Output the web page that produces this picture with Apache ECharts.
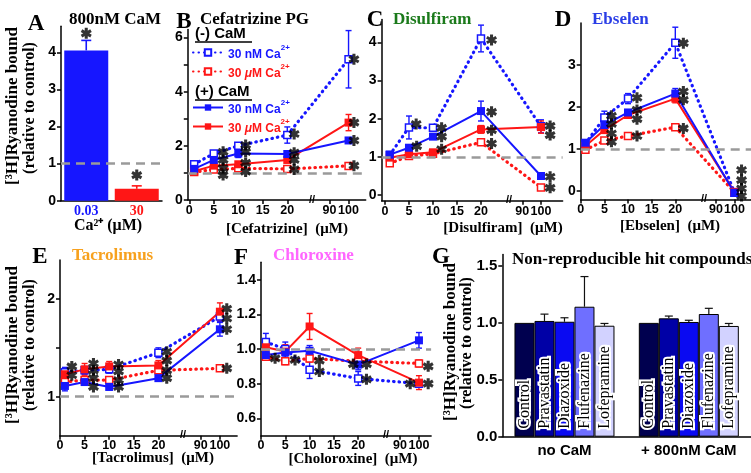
<!DOCTYPE html>
<html><head><meta charset="utf-8">
<script src="https://cdn.jsdelivr.net/npm/echarts@6/dist/echarts.min.js"></script>
<style>html,body{margin:0;padding:0;background:#fff}#c{width:751px;height:473px}</style>
</head><body><div id="c"></div>
<script>
// ================= DATA =================
const conc = [1, 5, 10, 20, 100];               // µM, x values of panels B-F
// Panel A (800nM CaM)
const aCats = ['0.03', '30'];
const aVals = [4.05, 0.32];
const aErr  = [0.27, 0.08];
const aStars = [[0, 4.51], [1, 0.69]];
// Panel B Cefatrizine PG
const bBlueDot = [1.32, 1.72, 2.00, 2.40, 5.20];  const bBlueDotErr = [0.05, 0.06, 0.07, 0.30, 1.06];
const bRedDot  = [1.03, 1.13, 1.17, 1.15, 1.26];  const bRedDotErr  = [0.05, 0.04, 0.04, 0.04, 0.05];
const bBlueSol = [1.15, 1.48, 1.72, 1.70, 2.20];  const bBlueSolErr = [0.05, 0.08, 0.15, 0.07, 0.10];
const bRedSol  = [1.06, 1.27, 1.32, 1.48, 2.86];  const bRedSolErr  = [0.10, 0.06, 0.07, 0.10, 0.30];
const bStars = [[6.9,1.78],[6.9,1.48],[6.9,1.18],[6.9,0.92],[11.5,2.03],[11.5,1.78],[11.5,1.37],[11.5,1.05],
                [21.4,2.44],[21.4,1.75],[21.4,1.48],[21.4,1.13],[33.6,5.2],[33.6,2.86],[33.6,2.2],[33.6,1.27]];
// Panel C Disulfiram
const cBlueDot = [1.05, 1.77, 1.76, 4.10, 1.80];  const cBlueDotErr = [0.05, 0.30, 0.06, 0.35, 0.17];
const cRedDot  = [0.83, 1.02, 1.08, 1.38, 0.20];  const cRedDotErr  = [0.05, 0.04, 0.04, 0.04, 0.04];
const cBlueSol = [1.06, 1.24, 1.53, 2.20, 0.50];  const cBlueSolErr = [0.04, 0.05, 0.06, 0.26, 0.04];
const cRedSol  = [0.98, 1.07, 1.12, 1.72, 1.78];  const cRedSolErr  = [0.05, 0.04, 0.05, 0.10, 0.16];
const cStars = [[6.5,1.86],[6.6,1.28],[11.8,1.76],[11.8,1.53],[11.8,1.2],[22.2,4.06],[22.2,2.18],[22.2,1.7],
                [22.2,1.35],[34.4,1.81],[34.4,1.57],[34.4,0.48],[34.4,0.19]];
// Panel D Ebselen
const dBlueDot = [1.13, 1.75, 2.20, 3.53, -0.04]; const dBlueDotErr = [0.05, 0.15, 0.12, 0.37, 0.03];
const dRedDot  = [0.98, 1.20, 1.31, 1.52, -0.03]; const dRedDotErr  = [0.04, 0.04, 0.04, 0.04, 0.03];
const dBlueSol = [1.15, 1.57, 1.87, 2.32, -0.04]; const dBlueSolErr = [0.04, 0.06, 0.05, 0.12, 0.03];
const dRedSol  = [1.07, 1.45, 1.81, 2.20, -0.02]; const dRedSolErr  = [0.04, 0.06, 0.05, 0.10, 0.03];
const dStars = [[6.5,1.79],[6.5,1.6],[6.5,1.37],[6.5,1.17],[11.9,2.22],[11.9,1.93],[11.9,1.71],[11.9,1.31],
                [21.7,3.52],[21.7,2.37],[21.7,2.17],[21.7,1.49],[34.0,0.5],[34.0,0.26],[34.0,0.06],[34.0,-0.12]];
// Panel E Tacrolimus
const eBlueDot = [1.25, 1.27, 1.28, 1.45, 1.82];  const eBlueDotErr = [0.05, 0.04, 0.04, 0.05, 0.05];
const eRedDot  = [1.15, 1.17, 1.17, 1.27, 1.29];  const eRedDotErr  = [0.03, 0.03, 0.03, 0.03, 0.02];
const eBlueSol = [1.11, 1.15, 1.10, 1.19, 1.69];  const eBlueSolErr = [0.05, 0.03, 0.03, 0.03, 0.07];
const eRedSol  = [1.23, 1.28, 1.31, 1.32, 1.87];  const eRedSolErr  = [0.05, 0.06, 0.05, 0.05, 0.09];
const eStars = [[2.4,1.31],[2.4,1.22],[6.8,1.34],[6.8,1.27],[6.8,1.19],[6.8,1.10],[11.9,1.33],[11.9,1.26],
                [11.9,1.17],[11.9,1.10],[21.7,1.46],[21.7,1.37],[21.7,1.27],[21.7,1.19],[33.9,1.90],[33.9,1.80],
                [33.9,1.69],[33.9,1.29]];
// Panel F Chloroxine
const fBlueDot = [1.04, 1.00, 0.88, 0.83, 0.80];  const fBlueDotErr = [0.05, 0.04, 0.05, 0.04, 0.02];
const fRedDot  = [0.955, 0.93, 0.945, 0.93, 0.917]; const fRedDotErr = [0.02, 0.02, 0.02, 0.02, 0.02];
const fBlueSol = [0.965, 0.98, 0.99, 0.91, 1.05]; const fBlueSolErr = [0.03, 0.03, 0.03, 0.03, 0.045];
const fRedSol  = [1.01, 0.985, 1.13, 0.965, 0.806]; const fRedSolErr = [0.03, 0.04, 0.075, 0.04, 0.04];
const fStars = [[2.9,0.946],[7.0,0.937],[12.0,0.933],[12.0,0.87],[19.0,0.913],[21.7,0.913],[21.7,0.825],
                [30.7,0.80],[34.4,0.90],[34.4,0.80]];
// Panel G
const gGroups = ['no CaM', '+ 800nM CaM'];
const gCompounds = ['Control', 'Pravastatin', 'Diazoxide', 'Flufenazine', 'Lofepramine'];
const gNoCaM  = [1.00, 1.017, 1.01, 1.142, 0.975];  const gNoCaMErr  = [0, 0.06, 0.035, 0.265, 0.02];
const gCaM    = [1.00, 1.04, 1.008, 1.078, 0.973];  const gCaMErr    = [0, 0.02, 0.015, 0.05, 0.022];
const gColors = ['#00004f', '#0000a6', '#0a0af2', '#6f6fff', '#d2d2ff'];

// ================= HELPERS =================
const BLUE = '#1616ff', RED = '#ff1616';
const SANS = 'Liberation Sans', SERIF = 'Liberation Serif';
const T = x => x <= 25 ? x : 28.6 + (x - 90) * 0.39;   // broken x axis: 0-20 linear, then 90,100
const XT = [0, 5, 10, 15, 20, T(90), T(100)];
const xFmt = v => v <= 25 ? String(Math.round(v)) : (v < 31 ? '90' : '100');
const pts = v => conc.map((c, i) => [T(c), v[i]]);
const errPts = (v, e) => conc.map((c, i) => [T(c), v[i], e[i]]);
const STAR = 'path://M-1.4,-5L1.4,-5L1.4,5L-1.4,5Z M-5.03,-1.29L-3.63,-3.71L5.03,1.29L3.63,3.71Z M-3.63,3.71L-5.03,1.29L3.63,-3.71L5.03,-1.29Z';
const nBD = 'mBD', nRD = 'mRD', nBS = 'pBS', nRS = 'pRS';
const AL = {color: '#000', width: 1.5};
const refLine = {silent: true, symbol: 'none', label: {show: false}, data: [{yAxis: 1}],
  lineStyle: {color: '#9a9a9a', type: [9, 6], width: 2.5}};

function xLine(gi, min, max, margin) {
  return {gridIndex: gi, type: 'value', min, max, axisLine: {onZero: false, lineStyle: AL},
    axisTick: {customValues: XT, length: 4, lineStyle: AL},
    axisLabel: {customValues: XT, formatter: xFmt, hideOverlap: false, showMinLabel: true, showMaxLabel: true,
      color: '#000', fontFamily: SANS, fontWeight: 'bold', fontSize: 12.5, margin: margin},
    splitLine: {show: false}};
}
function yVal(gi, min, max, labels, ticks, fmt, size) {
  return {gridIndex: gi, type: 'value', min, max, axisLine: {show: true, onZero: false, lineStyle: AL},
    axisTick: {show: true, customValues: ticks, length: 4, lineStyle: AL},
    axisLabel: {customValues: labels, formatter: fmt || (v => String(v)), hideOverlap: false, color: '#000',
      fontFamily: SANS, fontWeight: 'bold', fontSize: size || 14, margin: 5},
    splitLine: {show: false}};
}
const errBar = (col, w) => (params, api) => {
  const x = api.value(0), y = api.value(1), e = api.value(2);
  if (!e) return null;
  const t = api.coord([x, y + e]), b = api.coord([x, y - e]);
  const st = {stroke: col, lineWidth: 1.4};
  return {type: 'group', children: [
    {type: 'line', shape: {x1: t[0], y1: t[1], x2: b[0], y2: b[1]}, style: st},
    {type: 'line', shape: {x1: t[0] - w, y1: t[1], x2: t[0] + w, y2: t[1]}, style: st},
    {type: 'line', shape: {x1: b[0] - w, y1: b[1], x2: b[0] + w, y2: b[1]}, style: st}]};
};
function linePanel(gi, P, stars) {
  const out = [];
  [[nRD, P.rd, P.rdE, RED, true], [nBD, P.bd, P.bdE, BLUE, true],
   [nRS, P.rs, P.rsE, RED, false], [nBS, P.bs, P.bsE, BLUE, false]].forEach(([name, v, e, col, open]) => {
    out.push({type: 'custom', xAxisIndex: gi, yAxisIndex: gi, data: errPts(v, e), renderItem: errBar(col, 3), z: 2, silent: true});
    out.push({type: 'line', name, xAxisIndex: gi, yAxisIndex: gi, data: pts(v), symbol: 'rect', symbolSize: open ? 7 : 8,
      itemStyle: open ? {color: '#fff', borderColor: col, borderWidth: 1.5} : {color: col},
      lineStyle: open ? {color: col, width: 3.2, type: [0.5, 5], cap: 'round'} : {color: col, width: 2},
      z: 3, silent: true});
  });
  out.push({type: 'scatter', xAxisIndex: gi, yAxisIndex: gi, data: stars, symbol: STAR, symbolSize: 11,
    itemStyle: {color: '#000'}, z: 5, silent: true, markLine: refLine});
  return out;
}

// ================= SERIES =================
let series = [];
series = series.concat(linePanel(1, {bd: bBlueDot, bdE: bBlueDotErr, rd: bRedDot, rdE: bRedDotErr, bs: bBlueSol, bsE: bBlueSolErr, rs: bRedSol, rsE: bRedSolErr}, bStars));
series = series.concat(linePanel(2, {bd: cBlueDot, bdE: cBlueDotErr, rd: cRedDot, rdE: cRedDotErr, bs: cBlueSol, bsE: cBlueSolErr, rs: cRedSol, rsE: cRedSolErr}, cStars));
series = series.concat(linePanel(3, {bd: dBlueDot, bdE: dBlueDotErr, rd: dRedDot, rdE: dRedDotErr, bs: dBlueSol, bsE: dBlueSolErr, rs: dRedSol, rsE: dRedSolErr}, dStars));
series = series.concat(linePanel(4, {bd: eBlueDot, bdE: eBlueDotErr, rd: eRedDot, rdE: eRedDotErr, bs: eBlueSol, bsE: eBlueSolErr, rs: eRedSol, rsE: eRedSolErr}, eStars));
series = series.concat(linePanel(5, {bd: fBlueDot, bdE: fBlueDotErr, rd: fRedDot, rdE: fRedDotErr, bs: fBlueSol, bsE: fBlueSolErr, rs: fRedSol, rsE: fRedSolErr}, fStars));

// Panel A
const aColors = [BLUE, RED];
series.push({type: 'bar', xAxisIndex: 0, yAxisIndex: 0, barWidth: 44, silent: true,
  data: aVals.map((v, i) => ({value: v, itemStyle: {color: aColors[i]}})), markLine: refLine, z: 2});
series.push({type: 'custom', xAxisIndex: 0, yAxisIndex: 0, silent: true, z: 3,
  data: aVals.map((v, i) => [i, v, aErr[i]]),
  renderItem: (params, api) => {
    const i = api.value(0), v = api.value(1), e = api.value(2);
    const b = api.coord([i, v]), t = api.coord([i, v + e]);
    const st = {stroke: aColors[params.dataIndex], lineWidth: 1.6};
    return {type: 'group', children: [
      {type: 'line', shape: {x1: b[0], y1: b[1], x2: t[0], y2: t[1]}, style: st},
      {type: 'line', shape: {x1: t[0] - 5, y1: t[1], x2: t[0] + 5, y2: t[1]}, style: st}]};
  }});
series.push({type: 'scatter', xAxisIndex: 0, yAxisIndex: 0, data: aStars, symbol: STAR, symbolSize: 11,
  itemStyle: {color: '#000'}, z: 5, silent: true});

// Panel G
const BW = 20;
gCompounds.forEach((name, i) => {
  series.push({type: 'bar', name, xAxisIndex: 6, yAxisIndex: 6, barWidth: BW, barGap: '0%', silent: true,
    data: [gNoCaM[i], gCaM[i]],
    itemStyle: {color: gColors[i], borderColor: '#000', borderWidth: 1},
    label: {show: true, position: 'insideBottom', rotate: 90, align: 'left', verticalAlign: 'middle', distance: 8,
      formatter: '{a}', fontFamily: SERIF, fontSize: 16, color: '#000', textBorderColor: '#fff', textBorderWidth: 4}});
});
const gErrData = [];
gCompounds.forEach((n, i) => { gErrData.push([0, gNoCaM[i], gNoCaMErr[i], i]); gErrData.push([1, gCaM[i], gCaMErr[i], i]); });
series.push({type: 'custom', xAxisIndex: 6, yAxisIndex: 6, silent: true, z: 3, data: gErrData,
  renderItem: (params, api) => {
    const g = api.value(0), v = api.value(1), e = api.value(2), k = api.value(3);
    if (!e) return null;
    const off = (k - 2) * BW;
    const b = api.coord([g, v]), t = api.coord([g, v + e]);
    const st = {stroke: '#111', lineWidth: 1.2};
    return {type: 'group', children: [
      {type: 'line', shape: {x1: b[0] + off, y1: b[1], x2: t[0] + off, y2: t[1]}, style: st},
      {type: 'line', shape: {x1: t[0] + off - 4, y1: t[1], x2: t[0] + off + 4, y2: t[1]}, style: st}]};
  }});

// ================= LEGEND (panel B) =================
const rs = (c, size, extra) => Object.assign({color: c, fontSize: size, fontWeight: 'bold', fontFamily: SANS}, extra);
const RICH = {
  b: rs(BLUE, 12, {lineHeight: 17, verticalAlign: 'bottom'}),
  bs: rs(BLUE, 8, {lineHeight: 8, verticalAlign: 'top'}),
  r: rs(RED, 12, {lineHeight: 17, verticalAlign: 'bottom'}),
  ri: rs(RED, 12, {lineHeight: 17, verticalAlign: 'bottom', fontStyle: 'italic'}),
  rsup: rs(RED, 8, {lineHeight: 8, verticalAlign: 'top'})
};
const legFmt = n => (n === nBD || n === nBS) ? '{b|30 nM Ca}{bs|2+}' : '{r|30 }{ri|μ}{r|M Ca}{rsup|2+}';
const legBase = {left: 192, orient: 'vertical', itemWidth: 30, itemHeight: 8, itemGap: 2, selectedMode: false,
  formatter: legFmt, textStyle: {rich: RICH}, padding: 0};

// ================= TEXT =================
const txt = (x, y, text, font, fill, align, rot) => ({type: 'text', x, y, rotation: rot || 0, silent: true,
  style: {text, font, fill: fill || '#000', align: align || 'center', verticalAlign: 'middle', textAlign: align || 'center', textVerticalAlign: 'middle'}});
const fLetter = 'bold 23px "Liberation Serif"', fTitle = 'bold 17px "Liberation Serif"', fName = 'bold 15px "Liberation Serif"';
const fY1 = 'bold 17px "Liberation Serif"', fY2 = 'bold 16px "Liberation Serif"';
const brk = 'bold 11px "Liberation Sans"';
const graphics = [
  txt(36, 24, 'A', fLetter), txt(184, 22, 'B', fLetter), txt(375, 20, 'C', fLetter), txt(563, 20, 'D', fLetter),
  txt(40, 257, 'E', fLetter), txt(241, 258, 'F', fLetter), txt(441, 257, 'G', fLetter),
  txt(115, 20, '800nM CaM', fTitle), txt(200, 20, 'Cefatrizine PG', fTitle, '#000', 'left'),
  txt(393, 20, 'Disulfiram', fTitle, '#1b7a1b', 'left'), txt(592, 20, 'Ebselen', fTitle, '#2a3ee6', 'left'),
  txt(72, 256, 'Tacrolimus', fTitle, '#f7a11e', 'left'), txt(273, 256, 'Chloroxine', fTitle, '#ff66ff', 'left'),
  txt(512, 260, 'Non-reproducible hit compounds', fTitle, '#000', 'left'),
  txt(108, 226, 'Ca²⁺ (μM)', 'bold 16px "Liberation Serif"'), txt(287, 229, '[Cefatrizine]  (μM)', fName),
  txt(503, 228, '[Disulfiram]  (μM)', fName), txt(670, 226, '[Ebselen]  (μM)', fName),
  txt(153, 458, '[Tacrolimus]  (μM)', fName), txt(353, 459, '[Choloroxine]  (μM)', fName),
  txt(13, 106, '[³H]Ryanodine bound', fY1, '#000', 'center', Math.PI / 2),
  txt(30, 108, '(relative to control)', fY2, '#000', 'center', Math.PI / 2),
  txt(13, 345, '[³H]Ryanodine bound', fY1, '#000', 'center', Math.PI / 2),
  txt(30, 345, '(relative to control)', fY2, '#000', 'center', Math.PI / 2),
  txt(451, 342, '[³H]Ryanodine bound', fY1, '#000', 'center', Math.PI / 2),
  txt(467, 343, '(relative to control)', fY2, '#000', 'center', Math.PI / 2),
  txt(195, 34, '(-) CaM', 'bold 15px "Liberation Sans"', '#000', 'left'),
  txt(195, 92, '(+) CaM', 'bold 15px "Liberation Sans"', '#000', 'left'),
  {type: 'line', silent: true, shape: {x1: 195, y1: 42, x2: 252, y2: 42}, style: {stroke: '#000', lineWidth: 1.3}},
  {type: 'line', silent: true, shape: {x1: 195, y1: 100, x2: 252, y2: 100}, style: {stroke: '#000', lineWidth: 1.3}},
  txt(312, 200, '//', brk), txt(509, 200, '//', brk), txt(704, 199, '//', brk), txt(183, 435, '//', brk), txt(386, 435, '//', brk)
];

const option = {
  animation: false,
  backgroundColor: '#fff',
  grid: [
    {left: 61, top: 26.3, width: 101, height: 174.4},
    {left: 187.8, top: 29.5, width: 177.9, height: 170.5},
    {left: 381.6, top: 19.4, width: 181, height: 181.4},
    {left: 580.7, top: 23, width: 174.6, height: 176.4},
    {left: 60, top: 259.9, width: 177.1, height: 175.9},
    {left: 261, top: 262.35, width: 170.1, height: 173.3},
    {left: 502.3, top: 254.6, width: 263, height: 182.1}
  ],
  xAxis: [
    {gridIndex: 0, type: 'category', data: aCats.map((c, i) => ({value: c, textStyle: {color: aColors[i]}})),
      axisLine: {lineStyle: AL}, axisTick: {show: false},
      axisLabel: {fontFamily: SERIF, fontWeight: 'bold', fontSize: 14, margin: 4}},
    xLine(1, -0.3, 36, 4), xLine(2, -0.7, 37, 4), xLine(3, 0, 36, 4), xLine(4, 0, 36, 3), xLine(5, 0, 35, 3),
    {gridIndex: 6, type: 'category', data: gGroups, axisLine: {lineStyle: AL},
      axisTick: {alignWithLabel: true, length: 5, lineStyle: AL},
      axisLabel: {color: '#000', fontFamily: SANS, fontWeight: 'bold', fontSize: 15, margin: 7}}
  ],
  yAxis: [
    yVal(0, 0, 4.7, [0, 1, 2, 3, 4], [0, 1, 2, 3, 4]),
    yVal(1, 0, 6.3, [0, 2, 4, 6], [0, 1, 2, 3, 4, 5, 6]),
    yVal(2, -0.15, 4.6, [0, 1, 2, 3, 4], [0, 1, 2, 3, 4]),
    yVal(3, -0.2, 4.0, [0, 1, 2, 3], [0, 1, 2, 3]),
    yVal(4, 0.6, 2.4, [1, 2], [1, 1.5, 2]),
    yVal(5, 0.5, 1.5, [0.6, 0.8, 1.0, 1.2, 1.4], [0.6, 0.8, 1.0, 1.2, 1.4], v => v.toFixed(1)),
    yVal(6, 0, 1.6, [0, 0.5, 1.0, 1.5], [0, 0.5, 1.0, 1.5], v => v.toFixed(1), 15)
  ],
  legend: [
    Object.assign({}, legBase, {top: 44, data: [nBD, nRD]}),
    Object.assign({}, legBase, {top: 99, data: [nBS, nRS]})
  ],
  graphic: graphics,
  series
};
const chart = echarts.init(document.getElementById('c'), null, {renderer: 'canvas'});
chart.setOption(option);
</script>
</body></html>
